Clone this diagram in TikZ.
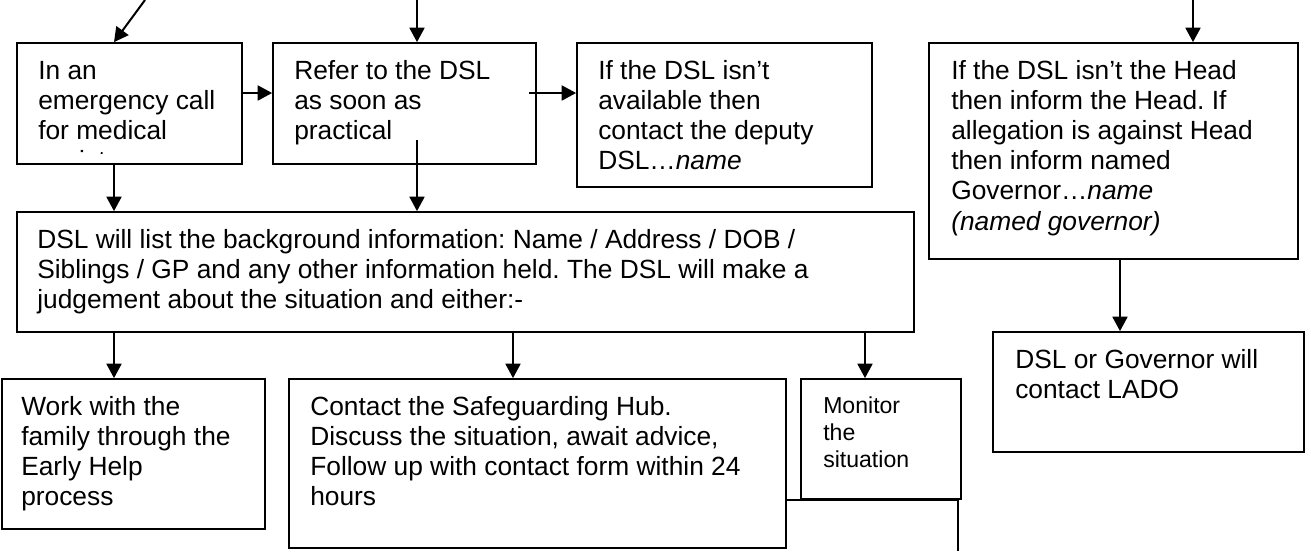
\documentclass[tikz,border=0pt]{standalone}
\usepackage{fontspec}
\setmainfont{Liberation Sans}
\usetikzlibrary{arrows.meta,fit}
\frenchspacing
\tikzset{
  boxnode/.style={draw=black,line width=1.3pt,inner sep=0pt},
  txt/.style={anchor=base west,inner sep=0pt,font=\fontsize{19.75}{22.65}\selectfont},
  smalltxt/.style={anchor=base west,inner sep=0pt,font=\fontsize{17.3}{20.3}\selectfont},
  arr/.style={line width=1.5pt,-{Triangle[length=10.8pt,width=11.2pt]}},
  plainline/.style={line width=1.5pt}
}
\begin{document}
\begin{tikzpicture}[x=0.75pt,y=-0.75pt]
\path[use as bounding box,fill=white] (0,0) rectangle (1311,551);

% text of the boxes
\begin{scope}
\clip (17,43) rectangle (242,153.5);
\node[txt] (tA) at (38,79) {\parbox[t]{200pt}{\frenchspacing In an\\emergency call\\for medical\\assistance}};
\end{scope}
\node[txt] (tB) at (294,79) {\parbox[t]{200pt}{\frenchspacing Refer to the DSL\\as soon as\\practical}};
\node[txt] (tC) at (598,79) {\parbox[t]{200pt}{\frenchspacing If the DSL isn’t\\available then\\contact the deputy\\DSL…\textit{name}}};
\node[txt] (tD) at (951,79) {\parbox[t]{250pt}{\frenchspacing If the DSL isn’t the Head\\then inform the Head. If\\allegation is against Head\\then inform named\\Governor…\textit{name}\\\textit{(named governor)}}};
\node[txt] (tE) at (37,248) {\parbox[t]{640pt}{\frenchspacing DSL will list the background information: Name / Address / DOB /\\Siblings / GP and any other information held. The DSL will make a\\judgement about the situation and either:-}};
\node[txt] (tF) at (21,415) {\parbox[t]{180pt}{\frenchspacing Work with the\\family through the\\Early Help\\process}};
\node[txt] (tG) at (310,415) {\parbox[t]{350pt}{\frenchspacing Contact the Safeguarding Hub.\\Discuss the situation, await advice,\\Follow up with contact form within 24\\hours}};
\node[smalltxt] (tH) at (823,413) {\parbox[t]{100pt}{Monitor\\the\\situation}};
\node[txt] (tL) at (1015,368) {\parbox[t]{220pt}{DSL or Governor will\\contact LADO}};

% boxes
\node[boxnode,fit={(17,43) (242,164)}] (A) {};
\node[boxnode,fit={(273,43) (536,164)}] (B) {};
\node[boxnode,fit={(577,43) (872,187)}] (C) {};
\node[boxnode,fit={(929,43) (1298,259)}] (D) {};
\node[boxnode,fit={(17,212) (914,332)}] (E) {};
\node[boxnode,fit={(2,379) (265,529)}] (F) {};
\node[boxnode,fit={(289,379) (786,548)}] (G) {};
\node[boxnode,fit={(801,379) (961,499)}] (H) {};
\node[boxnode,fit={(993,332) (1304,452)}] (L) {};

% free ends
\coordinate (s1) at (145,0);
\coordinate (s2) at (417,0);
\coordinate (s3) at (1193,0);
\coordinate (bstart) at (417,140);
\coordinate (bc) at (529,93);
\coordinate (corner) at (958,500);
\coordinate (down) at (958,551);

% connectors
\draw[arr] (s1) -- (114,0 |- A.north);
\draw[arr] (s2) -- (s2 |- B.north);
\draw[arr] (s3) -- (s3 |- D.north);
\draw[arr] (A.east |- 0,93) -- (B.west |- 0,93);
\draw[arr] (bc) -- (C.west |- bc);
\draw[arr] (114,0 |- A.south) -- (114,0 |- E.north);
\draw[arr] (bstart) -- (bstart |- E.north);
\draw[arr] (1120,0 |- D.south) -- (1120,0 |- L.north);
\draw[arr] (114,0 |- E.south) -- (114,0 |- F.north);
\draw[arr] (513,0 |- E.south) -- (513,0 |- G.north);
\draw[arr] (865,0 |- E.south) -- (865,0 |- H.north);
\draw[plainline] (G.east |- corner) -- (corner) -- (down);
\end{tikzpicture}
\end{document}
